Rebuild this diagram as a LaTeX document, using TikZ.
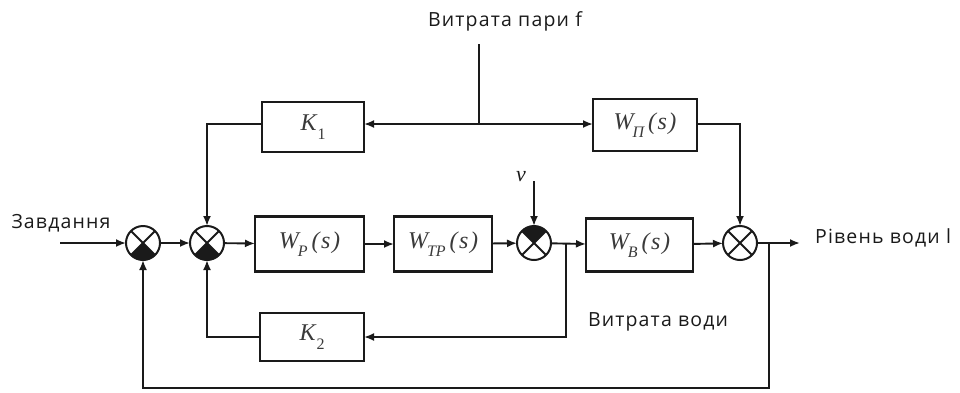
\documentclass[tikz,border=0pt]{standalone}
\usepackage{fontspec}
\setmainfont{Open Sans}[LetterSpace=6]
\newfontfamily\serifit{Liberation Serif}
\usetikzlibrary{arrows.meta}
\definecolor{ink}{HTML}{1A1A1A}
\definecolor{lab}{HTML}{3A3A3A}
\newcommand{\Wlab}[1]{{\serifit\itshape W\kern-1pt\raisebox{-0.35em}{\fontsize{16}{16}\selectfont #1}\kern4pt(\kern1.5pt s\kern1.5pt)}}
\newcommand{\Klab}[1]{{\serifit\itshape K\kern1pt\raisebox{-0.35em}{\fontsize{16}{16}\selectfont\upshape #1}}}
\tikzset{
  blk/.style={draw=ink, line width=2.2pt, fill=white, inner sep=0pt, outer sep=0pt,
    font=\fontsize{24}{26}\selectfont, text=lab},
  junc/.style={draw=ink, circle, line width=2pt, minimum size=34pt, inner sep=0pt, outer sep=0pt},
  conn/.style={draw=ink, line width=1.9pt},
  arr/.style={conn, -{Latex[length=10pt,width=8pt]}},
  txt/.style={text=ink, font=\fontsize{19.5}{22}\selectfont, inner sep=0pt}
}
\newcommand{\crossj}[1]{\draw[ink, line width=1.8pt] (#1.45)--(#1.225) (#1.135)--(#1.315);}
\begin{document}
\begin{tikzpicture}[x=1pt,y=1pt]
\useasboundingbox (0,0) rectangle (960,-392);
% junctions
\node[junc] (s1) at (143,-243) {};
\node[junc] (s2) at (207,-243) {};
\node[junc] (s3) at (534,-243) {};
\node[junc] (s4) at (740,-243) {};
\fill[ink] (s1.center) -- (s1.225) arc[start angle=225,end angle=315,radius=17pt] -- cycle;
\fill[ink] (s2.center) -- (s2.225) arc[start angle=225,end angle=315,radius=17pt] -- cycle;
\fill[ink] (s3.center) -- (s3.45) arc[start angle=45,end angle=135,radius=17pt] -- cycle;
\crossj{s1}\crossj{s2}\crossj{s3}\crossj{s4}
% blocks
\node[blk, minimum width=109pt, minimum height=55pt] (wp) at (309.5,-244) {\Wlab{P}};
\node[blk, minimum width=98pt, minimum height=55pt] (wtp) at (443,-244) {\Wlab{ТР}};
\node[blk, minimum width=107pt, minimum height=53pt] (wb) at (639.5,-245) {\Wlab{В}};
\node[blk, minimum width=102pt, minimum height=50pt] (k1) at (313,-127) {\Klab{1}};
\node[blk, minimum width=104pt, minimum height=52pt] (wpi) at (645,-125) {\Wlab{П}};
\node[blk, minimum width=104pt, minimum height=48pt] (k2) at (312,-337) {\Klab{2}};
% texts
\node[txt] (tz) at (61,-223) {Завдання};
\node[txt] (tf) at (505,-21) {Витрата пари f};
\node[txt, anchor=west] (tl) at (815,-238) {Рівень води l};
\node[txt] (tw) at (658,-322) {Витрата води};
\node[text=ink, font=\serifit\itshape\fontsize{22}{24}\selectfont, inner sep=0pt] (nu) at (521,-177) {ν};
% coordinates
\coordinate (in) at (60,-243);
\coordinate (out) at (800,-243);
\coordinate (ftop) at (479,-44);
\coordinate (fj) at (479,-124);
\coordinate (nutop) at (534,-181);
\coordinate (tapw) at (566,-243);
\coordinate (tapl) at (769,-243);
% main line
\draw[arr] (in) -- (s1);
\draw[arr] (s1) -- (s2);
\draw[arr] (s2) -- (wp);
\draw[arr] (wp) -- (wtp);
\draw[arr] (wtp) -- (s3);
\draw[arr] (s3) -- (wb);
\draw[arr] (wb) -- (s4);
\draw[arr] (s4) -- (out);
% steam flow
\draw[conn] (ftop) -- (fj);
\draw[arr] (fj) -- (fj -| k1.east);
\draw[arr] (fj) -- (fj -| wpi.west);
\draw[arr] (k1.west |- fj) -| (s2.north);
\draw[arr] (wpi.east |- fj) -| (s4.north);
% disturbance
\draw[arr] (nutop) -- (s3.north);
% water flow feedback
\draw[arr] (tapw) |- (k2.east);
\draw[arr] (k2.west) -| (s2.south);
% level feedback
\draw[arr] (tapl) -- (769,-388) -| (s1.south);
\end{tikzpicture}
\end{document}
